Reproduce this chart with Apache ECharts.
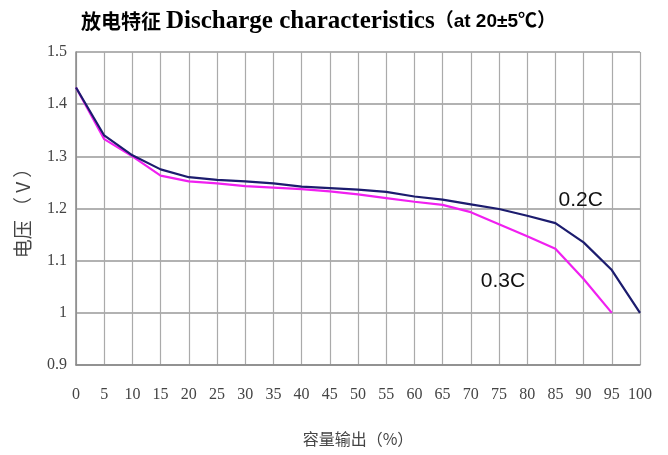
<!DOCTYPE html>
<html>
<head>
<meta charset="utf-8">
<script src="https://cdn.jsdelivr.net/npm/echarts@6/dist/echarts.min.js"></script>
<style>
html,body{margin:0;padding:0;background:#fff;}
#main{width:668px;height:455px;}
</style>
</head>
<body>
<div id="main"></div>
<script>
// 容量输出 (%)
var capacity = [0,5,10,15,20,25,30,35,40,45,50,55,60,65,70,75,80,85,90,95,100];
// 0.2C 放电电压
var volt02 = [1.432,1.34,1.302,1.275,1.26,1.255,1.252,1.248,1.242,1.239,1.236,1.232,1.223,1.217,1.208,1.199,1.186,1.172,1.135,1.082,1.0];
// 0.3C 放电电压
var volt03 = [1.432,1.333,1.30,1.263,1.252,1.248,1.243,1.240,1.237,1.233,1.227,1.220,1.213,1.207,1.193,1.170,1.147,1.123,1.065,1.0];
var curveLabels = ['0.2C','0.3C'];
var labelPos = [[89.5,1.216],[75.7,1.06]];

function pairs(xs, ys){
	var out=[];
	for(var i=0;i<ys.length;i++){
		out.push([xs[i],ys[i]]);
	}
	return out;
}

// 曲线旁的文字标注
function tag(i){
	return {
		symbol:'circle',
		symbolSize:1,
		itemStyle:{color:'rgba(0,0,0,0)'},
		label:{show:true,formatter:curveLabels[i],fontFamily:'Liberation Sans Narrow, Liberation Sans',fontSize:21,color:'#111',position:'inside'},
		data:[{coord:labelPos[i]}]
	};
}

var myChart = echarts.init(document.getElementById('main'));

var option = {
	backgroundColor:'#fff',
	animation:false,
	title:{
		text:'{a|放电特征} {b|Discharge characteristics}{c|（at 20±5℃）}',
		left:76,
		top:4,
		textStyle:{
			rich:{
				a:{fontFamily:'Noto Sans CJK SC',fontWeight:'bold',fontSize:20,color:'#000'},
				b:{fontFamily:'Liberation Serif',fontWeight:'bold',fontSize:25,color:'#000'},
				c:{fontFamily:'Liberation Sans, Noto Sans CJK SC',fontWeight:'bold',fontSize:19,color:'#000'}
			}
		}
	},
	grid:{left:76,right:28,top:52,bottom:90},
	xAxis:{
		type:'value',
		min:0,max:100,interval:5,
		name:'容量输出（%）',
		nameLocation:'middle',
		nameGap:66,
		nameTextStyle:{fontFamily:'Noto Sans CJK SC',fontSize:16,color:'#444'},
		axisLine:{show:true,lineStyle:{color:'#888',width:1.5}},
		axisTick:{show:false},
		axisLabel:{margin:22,fontFamily:'Liberation Serif',fontSize:16,color:'#444'},
		splitLine:{show:true,lineStyle:{color:'#aaa',width:1.2}}
	},
	yAxis:{
		type:'value',
		min:0.9,max:1.5,interval:0.1,
		name:'电压 （ V ）',
		nameLocation:'middle',
		nameRotate:90,
		nameGap:44,
		nameTextStyle:{fontFamily:'Noto Sans CJK SC',fontSize:19,color:'#444'},
		axisLine:{show:true,lineStyle:{color:'#888',width:1.5}},
		axisTick:{show:false},
		axisLabel:{margin:9,fontFamily:'Liberation Serif',fontSize:16,color:'#444'},
		splitLine:{show:true,lineStyle:{color:'#999',width:1.6}}
	},
	series:[
		{
			name:curveLabels[0],
			type:'line',
			data:pairs(capacity,volt02),
			symbol:'none',
			lineStyle:{color:'#1c1c6e',width:2.2},
			z:3,
			markPoint:tag(0)
		},
		{
			name:curveLabels[1],
			type:'line',
			data:pairs(capacity,volt03),
			symbol:'none',
			lineStyle:{color:'#f020f0',width:2.2},
			z:2,
			markPoint:tag(1)
		}
	]
};

myChart.setOption(option);
</script>
</body>
</html>
